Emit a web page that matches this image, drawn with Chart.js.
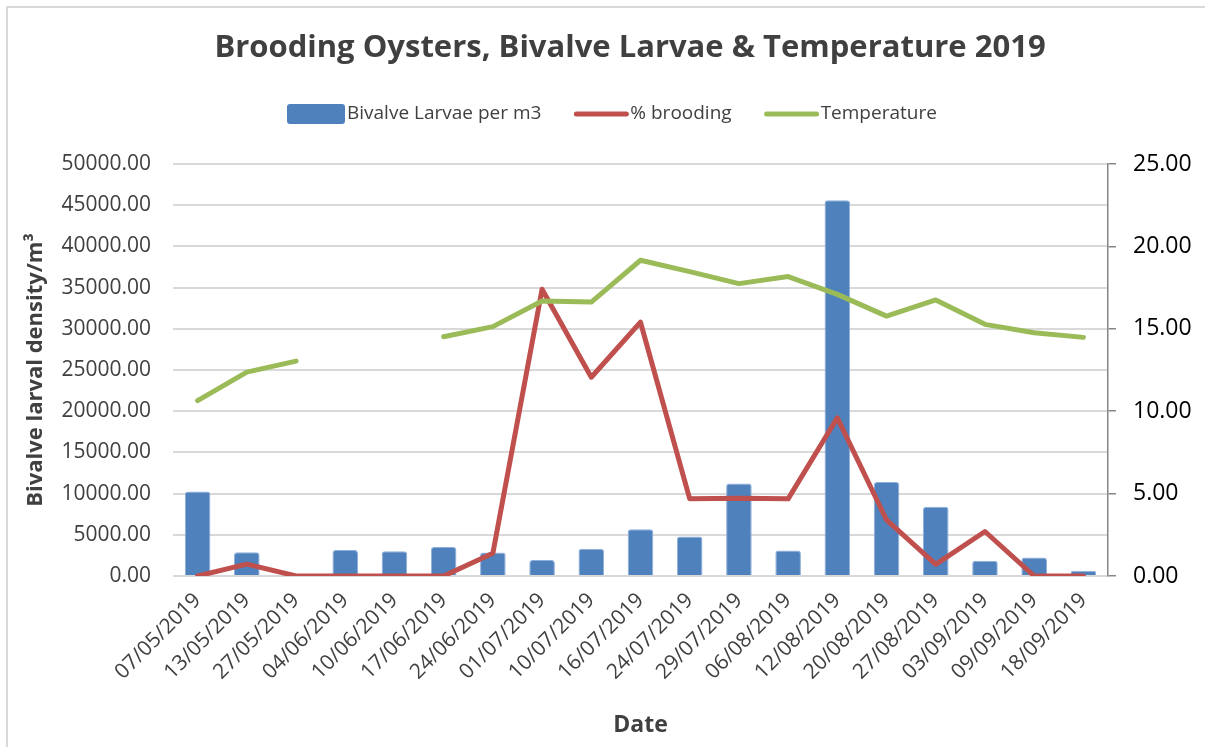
<!DOCTYPE html>
<html>
<head>
<meta charset="utf-8">
<title>Brooding Oysters, Bivalve Larvae & Temperature 2019</title>
<script src="https://cdn.jsdelivr.net/npm/chart.js@4.4.1/dist/chart.umd.min.js"></script>
<style>
  html, body { margin: 0; padding: 0; background: #fff; }
  #wrap { position: relative; width: 1205px; height: 747px; overflow: hidden; }
  #frame { position: absolute; left: 6px; top: 6px; width: 1230px; height: 770px; border: 2px solid #d9d9d9; box-sizing: border-box; }
  #chart { position: absolute; left: 0; top: 0; }
</style>
</head>
<body>
<div id="wrap">
  <div id="frame"></div>
  <canvas id="chart" width="1205" height="747"></canvas>
</div>
<script>
const chartTitle = 'Brooding Oysters, Bivalve Larvae & Temperature 2019';

const dates = [
  '07/05/2019', '13/05/2019', '27/05/2019', '04/06/2019', '10/06/2019',
  '17/06/2019', '24/06/2019', '01/07/2019', '10/07/2019', '16/07/2019',
  '24/07/2019', '29/07/2019', '06/08/2019', '12/08/2019', '20/08/2019',
  '27/08/2019', '03/09/2019', '09/09/2019', '18/09/2019'
];

// larvae per m3 (left axis)
const larvae = [
  10250, 2880, 0, 3160, 3000,
  3530, 2840, 1950, 3320, 5680,
  4780, 11230, 3080, 45600, 11400,
  8390, 1860, 2230, 650
];

// % brooding (right axis)
const brooding = [
  0, 0.72, 0, 0, 0,
  0, 1.38, 17.4, 12.06, 15.4,
  4.68, 4.72, 4.68, 9.6, 3.4,
  0.71, 2.7, 0, 0
];

// water temperature (right axis), no reading for two June dates
const temperature = [
  10.64, 12.37, 13.04, null, null,
  14.52, 15.13, 16.69, 16.62, 19.16,
  18.47, 17.74, 18.17, 17.09, 15.77,
  16.75, 15.27, 14.76, 14.48
];

const blue = '#4f81bd';
const red = '#c0504d';
const green = '#9bbb59';
const textGrey = '#404040';
const fontFamily = '"Open Sans", "DejaVu Sans", sans-serif';

// title and legend drawn above the plot area
const headerPlugin = {
  id: 'header',
  afterDraw(chart) {
    const ctx = chart.ctx;
    ctx.save();
    ctx.fillStyle = textGrey;
    ctx.font = 'bold 31px ' + fontFamily;
    ctx.textAlign = 'center';
    ctx.textBaseline = 'middle';
    ctx.fillText(chartTitle, 630, 48);

    ctx.font = '19px ' + fontFamily;
    ctx.textAlign = 'left';
    let x = 287;
    const y = 114;
    chart.data.datasets.forEach(ds => {
      if (ds.type === 'bar') {
        ctx.fillStyle = ds.backgroundColor;
        ctx.beginPath();
        ctx.roundRect(x, y - 10, 58, 20, 3);
        ctx.fill();
        x += 60;
      } else {
        ctx.strokeStyle = ds.borderColor;
        ctx.lineWidth = 5;
        ctx.lineCap = 'round';
        ctx.beginPath();
        ctx.moveTo(x + 3, y);
        ctx.lineTo(x + 53, y);
        ctx.stroke();
        x += 57;
      }
      ctx.fillStyle = textGrey;
      ctx.fillText(ds.label, x, y);
      x += ctx.measureText(ds.label).width + 32;
    });
    ctx.restore();
  }
};

const ctx = document.getElementById('chart').getContext('2d');
new Chart(ctx, {
  type: 'bar',
  data: {
    labels: dates,
    datasets: [
      {
        type: 'bar',
        label: 'Bivalve Larvae per m3',
        data: larvae,
        yAxisID: 'y',
        backgroundColor: blue,
        borderColor: '#8eaedb',
        borderWidth: 1,
        borderRadius: { topLeft: 3, topRight: 3 },
        borderSkipped: 'start',
        barPercentage: 0.52,
        categoryPercentage: 1,
        order: 3
      },
      {
        type: 'line',
        label: '% brooding',
        data: brooding,
        yAxisID: 'y1',
        borderColor: red,
        backgroundColor: red,
        borderWidth: 5,
        pointRadius: 0,
        borderCapStyle: 'round',
        borderJoinStyle: 'round',
        tension: 0,
        order: 2
      },
      {
        type: 'line',
        label: 'Temperature',
        data: temperature,
        yAxisID: 'y1',
        borderColor: green,
        backgroundColor: green,
        borderWidth: 5,
        pointRadius: 0,
        borderCapStyle: 'round',
        borderJoinStyle: 'round',
        spanGaps: false,
        tension: 0,
        order: 1
      }
    ]
  },
  options: {
    responsive: false,
    animation: false,
    layout: { padding: { left: 10, right: 0, top: 164, bottom: 8 } },
    plugins: {
      legend: { display: false },
      title: { display: false },
      tooltip: { enabled: false }
    },
    scales: {
      x: {
        grid: { display: false },
        border: { display: false },
        ticks: {
          color: textGrey,
          font: { family: fontFamily, size: 21 },
          minRotation: 45,
          maxRotation: 45,
          autoSkip: false,
          padding: 4
        },
        title: {
          display: true,
          text: 'Date',
          color: textGrey,
          font: { family: fontFamily, size: 23, weight: 'bold' },
          padding: { top: 0, bottom: 0 }
        },
        afterFit(scale) { scale.height = 163; }
      },
      y: {
        position: 'left',
        min: 0,
        max: 50000,
        ticks: {
          stepSize: 5000,
          padding: 22,
          color: textGrey,
          font: { family: fontFamily, size: 21 },
          callback: v => v.toFixed(2)
        },
        grid: { color: '#d9d9d9', lineWidth: 2, drawTicks: false },
        border: { display: false },
        title: {
          display: true,
          text: 'Bivalve larval density/m³',
          color: textGrey,
          font: { family: fontFamily, size: 22, weight: 'bold' },
          padding: { top: 13, bottom: 0 }
        },
        afterFit(scale) { scale.width = 163; }
      },
      y1: {
        position: 'right',
        min: 0,
        max: 25,
        ticks: {
          stepSize: 5,
          padding: 17,
          color: '#000',
          font: { family: fontFamily, size: 23 },
          callback: v => v.toFixed(2)
        },
        grid: { drawOnChartArea: false, color: '#868686', lineWidth: 1.5, tickLength: 8 },
        border: { color: '#868686', width: 1.5 },
        afterFit(scale) { scale.width = 97; }
      }
    }
  },
  plugins: [headerPlugin]
});
</script>
</body>
</html>
